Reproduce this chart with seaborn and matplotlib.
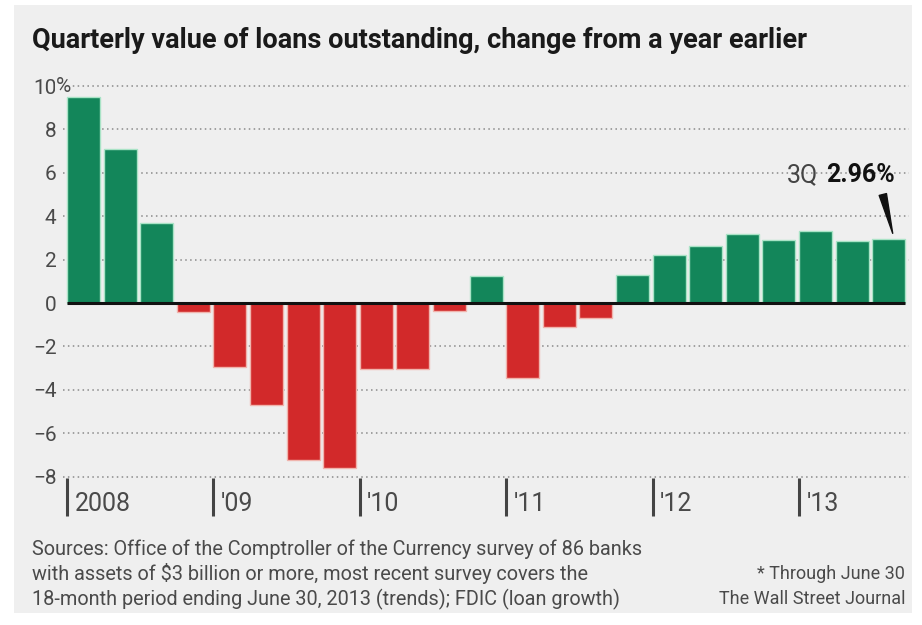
import matplotlib
matplotlib.use("Agg")
import matplotlib.pyplot as plt
import matplotlib.transforms as mtrans
from matplotlib.patches import Rectangle
import seaborn as sns
import pandas as pd

# ---- data ----
quarters = [f"{y}Q{q}" for y in range(2008, 2014) for q in range(1, 5)][:23]
values = [9.5, 7.1, 3.7, -0.4,
          -2.95, -4.7, -7.25, -7.6,
          -3.05, -3.05, -0.35, 1.25,
          -3.45, -1.1, -0.7, 1.3,
          2.2, 2.65, 3.2, 2.9,
          3.3, 2.85, 2.96]
year_labels = ["2008", "'09", "'10", "'11", "'12", "'13"]
year_start = [0, 4, 8, 12, 16, 20]
ytick_vals = [-8, -6, -4, -2, 0, 2, 4, 6, 8, 10]
title = "Quarterly value of loans outstanding, change from a year earlier"
source_lines = ["Sources: Office of the Comptroller of the Currency survey of 86 banks",
                "with assets of $3 billion or more, most recent survey covers the",
                "18-month period ending June 30, 2013 (trends); FDIC (loan growth)"]
note_lines = ["* Through June 30", "The Wall Street Journal"]

sns.set_theme(style="white")
FAM = ["Roboto", "DejaVu Sans"]
plt.rcParams["font.family"] = FAM

GREEN = "#13865a"
RED = "#d2292a"
BG = "#efefef"
TXT = "#4a4a4a"

df = pd.DataFrame({"q": quarters, "v": values})
df["sign"] = ["pos" if v >= 0 else "neg" for v in values]

fig = plt.figure(figsize=(9.22, 6.25), dpi=100)
fig.patch.set_facecolor("white")
fig.patches.append(Rectangle((14 / 922, 12 / 625), (912 - 14) / 922, (620 - 12) / 625,
                             transform=fig.transFigure, facecolor=BG, edgecolor="none", zorder=-10))

ax = fig.add_axes([63.4 / 922, 1 - 520 / 625, (908.8 - 63.4) / 922, (520 - 79.5) / 625])
ax.set_facecolor("none")

sns.barplot(data=df, x="q", y="v", hue="sign", palette={"pos": GREEN, "neg": RED},
            dodge=False, width=0.9, legend=False, ax=ax, zorder=3, saturation=1)
for p in ax.patches:
    h = p.get_height()
    p.set_edgecolor("#a9e3c6" if h >= 0 else "#f0b4ad")
    p.set_linewidth(1.0)

ax.set_xlim(-0.55, 22.55)
ax.set_ylim(-10.0, 10.3)
for s in ax.spines.values():
    s.set_visible(False)

ax.set_yticks(ytick_vals)
ax.set_yticklabels([("−" + str(-v)) if v < 0 else str(v) for v in ytick_vals],
                   fontsize=15, color=TXT)
ax.tick_params(axis="y", length=0, pad=5)
ax.tick_params(axis="x", length=0, labelbottom=False)
ax.set_xlabel("")
ax.set_ylabel("")
ax.grid(False)
for v in ytick_vals:
    if v != 0:
        ax.axhline(v, color="#8a8a8a", lw=1.1, linestyle=(0, (1, 2.2)), zorder=1)
ax.hlines(0, -0.45, 22.45, color="#111111", lw=2.2, zorder=4)

off = mtrans.offset_copy(ax.get_yaxis_transform(), fig=fig, x=-8, y=0, units="dots")
ax.text(0, 10, "%", transform=off, ha="left", va="center", fontsize=15, color=TXT,
        bbox=dict(facecolor=BG, edgecolor="none", pad=0.0), zorder=5)

for lab, i in zip(year_labels, year_start):
    ax.vlines(i - 0.45, -8.05, -9.8, color="#444444", lw=2.2, zorder=4)
    ax.text(i - 0.45 + 0.2, -9.25, lab, ha="left", va="center", fontsize=18, color=TXT)

last = len(values) - 1
t2 = ax.text(last + 0.17, 5.9, f"{values[-1]:.2f}%", ha="right", va="center",
             fontsize=18, fontweight="bold", color="#111111")
ax.annotate("3Q", xy=(0, 0.5), xycoords=t2, xytext=(-6, 0), textcoords="offset points",
            ha="right", va="center", fontsize=18, color="#444444")
ax.annotate("", xy=(last + 0.11, values[-1] + 0.25), xytext=(last - 0.16, 5.0),
            arrowprops=dict(arrowstyle="wedge,tail_width=0.45", color="#111111",
                            shrinkA=0, shrinkB=0), zorder=6)

fig.text(32 / 922, 1 - 40 / 625, title, ha="left", va="center", fontsize=19.5,
         fontweight="bold", color="#1a1a1a")
for k, line in enumerate(source_lines):
    fig.text(32 / 922, 1 - (549 + 25 * k) / 625, line, ha="left", va="center",
             fontsize=14.3, color=TXT)
for k, line in enumerate(note_lines):
    fig.text(905 / 922, 1 - (574 + 25 * k) / 625, line, ha="right", va="center",
             fontsize=13, color=TXT)

fig.savefig("out.png", dpi=100, facecolor=fig.get_facecolor())
